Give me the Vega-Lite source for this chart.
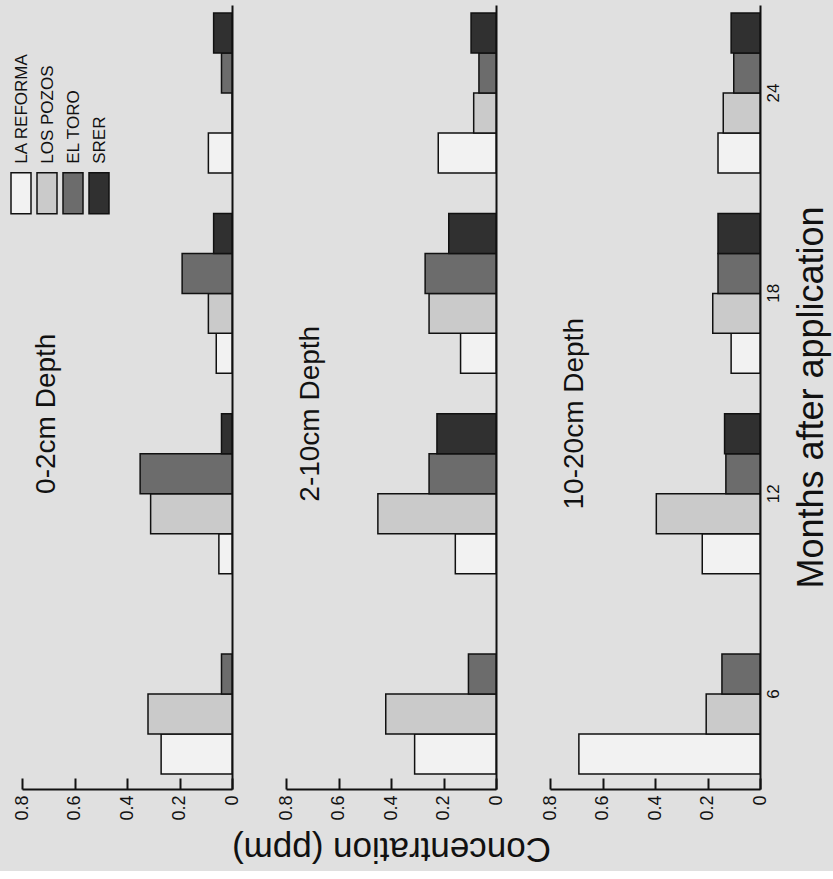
{
  "$schema": "https://vega.github.io/schema/vega-lite/v6.json",
  "background": "#e0e0e0",
  "padding": {"left": 10, "top": 5, "right": 5, "bottom": 5},
  "bounds": "flush",
  "spacing": 54,
  "config": {
    "font": "Liberation Sans",
    "view": {"stroke": null},
    "title": {"fontWeight": "normal", "color": "#111111", "font": "Liberation Sans"},
    "axis": {"labelColor": "#111111", "titleColor": "#111111", "titleFontWeight": "normal", "domainColor": "#111111", "tickColor": "#111111", "grid": false}
  },
  "datasets": {
    "conc": [
      {"depth": "0-2cm", "month": 6, "site": "LA REFORMA", "value": 0.27},
      {"depth": "0-2cm", "month": 6, "site": "LOS POZOS", "value": 0.32},
      {"depth": "0-2cm", "month": 6, "site": "EL TORO", "value": 0.04},
      {"depth": "0-2cm", "month": 12, "site": "LA REFORMA", "value": 0.05},
      {"depth": "0-2cm", "month": 12, "site": "LOS POZOS", "value": 0.31},
      {"depth": "0-2cm", "month": 12, "site": "EL TORO", "value": 0.35},
      {"depth": "0-2cm", "month": 12, "site": "SRER", "value": 0.04},
      {"depth": "0-2cm", "month": 18, "site": "LA REFORMA", "value": 0.06},
      {"depth": "0-2cm", "month": 18, "site": "LOS POZOS", "value": 0.09},
      {"depth": "0-2cm", "month": 18, "site": "EL TORO", "value": 0.19},
      {"depth": "0-2cm", "month": 18, "site": "SRER", "value": 0.07},
      {"depth": "0-2cm", "month": 24, "site": "LA REFORMA", "value": 0.09},
      {"depth": "0-2cm", "month": 24, "site": "LOS POZOS", "value": 0},
      {"depth": "0-2cm", "month": 24, "site": "EL TORO", "value": 0.04},
      {"depth": "0-2cm", "month": 24, "site": "SRER", "value": 0.07},
      {"depth": "2-10cm", "month": 6, "site": "LA REFORMA", "value": 0.31},
      {"depth": "2-10cm", "month": 6, "site": "LOS POZOS", "value": 0.42},
      {"depth": "2-10cm", "month": 6, "site": "EL TORO", "value": 0.105},
      {"depth": "2-10cm", "month": 12, "site": "LA REFORMA", "value": 0.155},
      {"depth": "2-10cm", "month": 12, "site": "LOS POZOS", "value": 0.45},
      {"depth": "2-10cm", "month": 12, "site": "EL TORO", "value": 0.255},
      {"depth": "2-10cm", "month": 12, "site": "SRER", "value": 0.225},
      {"depth": "2-10cm", "month": 18, "site": "LA REFORMA", "value": 0.135},
      {"depth": "2-10cm", "month": 18, "site": "LOS POZOS", "value": 0.255},
      {"depth": "2-10cm", "month": 18, "site": "EL TORO", "value": 0.27},
      {"depth": "2-10cm", "month": 18, "site": "SRER", "value": 0.18},
      {"depth": "2-10cm", "month": 24, "site": "LA REFORMA", "value": 0.22},
      {"depth": "2-10cm", "month": 24, "site": "LOS POZOS", "value": 0.085},
      {"depth": "2-10cm", "month": 24, "site": "EL TORO", "value": 0.065},
      {"depth": "2-10cm", "month": 24, "site": "SRER", "value": 0.095},
      {"depth": "10-20cm", "month": 6, "site": "LA REFORMA", "value": 0.69},
      {"depth": "10-20cm", "month": 6, "site": "LOS POZOS", "value": 0.205},
      {"depth": "10-20cm", "month": 6, "site": "EL TORO", "value": 0.145},
      {"depth": "10-20cm", "month": 12, "site": "LA REFORMA", "value": 0.22},
      {"depth": "10-20cm", "month": 12, "site": "LOS POZOS", "value": 0.395},
      {"depth": "10-20cm", "month": 12, "site": "EL TORO", "value": 0.13},
      {"depth": "10-20cm", "month": 12, "site": "SRER", "value": 0.135},
      {"depth": "10-20cm", "month": 18, "site": "LA REFORMA", "value": 0.11},
      {"depth": "10-20cm", "month": 18, "site": "LOS POZOS", "value": 0.18},
      {"depth": "10-20cm", "month": 18, "site": "EL TORO", "value": 0.16},
      {"depth": "10-20cm", "month": 18, "site": "SRER", "value": 0.16},
      {"depth": "10-20cm", "month": 24, "site": "LA REFORMA", "value": 0.16},
      {"depth": "10-20cm", "month": 24, "site": "LOS POZOS", "value": 0.14},
      {"depth": "10-20cm", "month": 24, "site": "EL TORO", "value": 0.1},
      {"depth": "10-20cm", "month": 24, "site": "SRER", "value": 0.11}
    ]
  },
  "resolve": {"scale": {"x": "independent", "y": "independent", "yOffset": "independent", "fill": "independent"}},
  "hconcat": [
    {
      "width": 210,
      "height": 784,
      "layer": [
        {
          "data": {"name": "conc"},
          "transform": [{"filter": "datum.depth === '0-2cm'"}],
          "mark": {"type": "bar", "stroke": "#111111", "strokeWidth": 1.5},
          "encoding": {
            "y": {"field": "month", "type": "ordinal", "sort": "descending",
              "scale": {"paddingInner": 0.2016, "paddingOuter": 0.0574, "align": 0.35},
              "axis": {"orient": "right", "labels": false, "ticks": false, "title": null, "domainWidth": 2}},
            "yOffset": {"field": "site", "sort": ["SRER", "EL TORO", "LOS POZOS", "LA REFORMA"], "scale": {"paddingInner": 0, "paddingOuter": 0}},
            "x": {"field": "value", "type": "quantitative",
              "scale": {"domain": [0, 0.8], "reverse": true, "nice": false, "zero": true},
              "axis": {"values": [0, 0.1, 0.2, 0.3, 0.4, 0.5, 0.6, 0.7, 0.8], "labelExpr": "round(datum.value*10) % 2 == 0 ? format(datum.value, '~g') : ''", "labelAngle": 270, "labelFontSize": 18, "tickSize": -11, "tickWidth": 2, "domainWidth": 2, "labelPadding": 17, "labelFlush": false, "labelOverlap": false, "title": null}},
            "fill": {"field": "site", "type": "nominal",
              "scale": {"domain": ["LA REFORMA", "LOS POZOS", "EL TORO", "SRER"], "range": ["#f2f2f2", "#cacaca", "#6c6c6c", "#303030"]},
              "legend": {"orient": "none", "legendX": -12, "legendY": 177, "direction": "horizontal", "title": null, "padding": 0,
                "symbolType": "M-1,-2.05H1V2.05H-1Z", "symbolSize": 400, "symbolStrokeColor": "#111111", "symbolStrokeWidth": 1.5, "symbolOpacity": 1,
                "labelFontSize": 17, "labelColor": "#111111", "labelOffset": 0, "columnPadding": 0,
                "encode": {"labels": {"update": {"angle": {"value": -90}, "align": {"value": "left"}, "baseline": {"value": "middle"}, "dx": {"value": 29.5}, "dy": {"value": -10}}}}}}
          }
        },
        {
          "data": {"values": [{"label": "0-2cm Depth"}]},
          "mark": {"type": "text", "angle": 270, "align": "center", "baseline": "bottom", "fontSize": 28, "font": "Liberation Sans", "color": "#111111"},
          "encoding": {
            "text": {"field": "label", "type": "nominal"},
            "x": {"datum": 0.65, "type": "quantitative"},
            "y": {"datum": 12, "type": "ordinal", "bandPosition": 0}
          }
        }
      ]
    },
    {
      "width": 210,
      "height": 784,
      "layer": [
        {
          "data": {"name": "conc"},
          "transform": [{"filter": "datum.depth === '2-10cm'"}],
          "mark": {"type": "bar", "stroke": "#111111", "strokeWidth": 1.5},
          "encoding": {
            "y": {"field": "month", "type": "ordinal", "sort": "descending",
              "scale": {"paddingInner": 0.2016, "paddingOuter": 0.0574, "align": 0.35},
              "axis": {"orient": "right", "labels": false, "ticks": false, "title": null, "domainWidth": 2}},
            "yOffset": {"field": "site", "sort": ["SRER", "EL TORO", "LOS POZOS", "LA REFORMA"], "scale": {"paddingInner": 0, "paddingOuter": 0}},
            "x": {"field": "value", "type": "quantitative",
              "scale": {"domain": [0, 0.8], "reverse": true, "nice": false, "zero": true},
              "axis": {"values": [0, 0.1, 0.2, 0.3, 0.4, 0.5, 0.6, 0.7, 0.8], "labelExpr": "round(datum.value*10) % 2 == 0 ? format(datum.value, '~g') : ''", "labelAngle": 270, "labelFontSize": 18, "tickSize": -11, "tickWidth": 2, "domainWidth": 2, "labelPadding": 17, "labelFlush": false, "labelOverlap": false,
                "title": "Concentration (ppm)", "titleAngle": 180, "titleBaseline": "bottom", "titleFontSize": 35, "titlePadding": 10}},
            "fill": {"field": "site", "type": "nominal",
              "scale": {"domain": ["LA REFORMA", "LOS POZOS", "EL TORO", "SRER"], "range": ["#f2f2f2", "#cacaca", "#6c6c6c", "#303030"]},
              "legend": null}
          }
        },
        {
          "data": {"values": [{"label": "2-10cm Depth"}]},
          "mark": {"type": "text", "angle": 270, "align": "center", "baseline": "bottom", "fontSize": 28, "font": "Liberation Sans", "color": "#111111"},
          "encoding": {
            "text": {"field": "label", "type": "nominal"},
            "x": {"datum": 0.65, "type": "quantitative"},
            "y": {"datum": 12, "type": "ordinal", "bandPosition": 0}
          }
        }
      ]
    },
    {
      "width": 210,
      "height": 784,
      "layer": [
        {
          "data": {"name": "conc"},
          "transform": [{"filter": "datum.depth === '10-20cm'"}],
          "mark": {"type": "bar", "stroke": "#111111", "strokeWidth": 1.5},
          "encoding": {
            "y": {"field": "month", "type": "ordinal", "sort": "descending",
              "scale": {"paddingInner": 0.2016, "paddingOuter": 0.0574, "align": 0.35},
              "axis": {"orient": "right", "ticks": false, "domainWidth": 2, "labelAngle": 270, "labelAlign": "center", "labelBaseline": "top", "labelFontSize": 17, "labelPadding": 5,
                "title": "Months after application", "titleAngle": 270, "titleBaseline": "top", "titleAlign": "center", "titleAnchor": "middle", "titleFontSize": 36, "titlePadding": 13}},
            "yOffset": {"field": "site", "sort": ["SRER", "EL TORO", "LOS POZOS", "LA REFORMA"], "scale": {"paddingInner": 0, "paddingOuter": 0}},
            "x": {"field": "value", "type": "quantitative",
              "scale": {"domain": [0, 0.8], "reverse": true, "nice": false, "zero": true},
              "axis": {"values": [0, 0.1, 0.2, 0.3, 0.4, 0.5, 0.6, 0.7, 0.8], "labelExpr": "round(datum.value*10) % 2 == 0 ? format(datum.value, '~g') : ''", "labelAngle": 270, "labelFontSize": 18, "tickSize": -11, "tickWidth": 2, "domainWidth": 2, "labelPadding": 17, "labelFlush": false, "labelOverlap": false, "title": null}},
            "fill": {"field": "site", "type": "nominal",
              "scale": {"domain": ["LA REFORMA", "LOS POZOS", "EL TORO", "SRER"], "range": ["#f2f2f2", "#cacaca", "#6c6c6c", "#303030"]},
              "legend": null}
          }
        },
        {
          "data": {"values": [{"label": "10-20cm Depth"}]},
          "mark": {"type": "text", "angle": 270, "align": "center", "baseline": "bottom", "fontSize": 28, "font": "Liberation Sans", "color": "#111111"},
          "encoding": {
            "text": {"field": "label", "type": "nominal"},
            "x": {"datum": 0.65, "type": "quantitative"},
            "y": {"datum": 12, "type": "ordinal", "bandPosition": 0}
          }
        }
      ]
    }
  ]
}
